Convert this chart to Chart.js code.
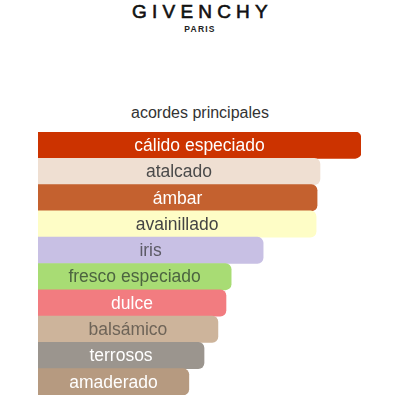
<!DOCTYPE html>
<html>
<head>
<meta charset="utf-8">
<script src="https://cdn.jsdelivr.net/npm/chart.js@4"></script>
<style>
  html, body { margin: 0; padding: 0; background: #fff; }
  #wrap { position: relative; width: 400px; height: 400px; overflow: hidden; }
  #brand { position: absolute; left: 0; top: 2px; width: 400px; text-align: center; font-family: "Liberation Sans", Arial, sans-serif; color: #111; }
  #brand .name { font-size: 19px; letter-spacing: 5.2px; padding-left: 5px; line-height: 20px; -webkit-text-stroke: 0.6px #111; }
  #brand .city { font-size: 8.5px; font-weight: bold; letter-spacing: 1.2px; line-height: 10px; margin-top: 2px; color: #222; }
  #title { position: absolute; left: 0; top: 104px; width: 400px; text-align: center; font-family: "Liberation Sans", Arial, sans-serif; font-size: 16px; color: #333; }
  canvas { position: absolute; left: 0; top: 0; }
</style>
</head>
<body>
<div id="wrap">
  <div id="brand"><div class="name">GIVENCHY</div><div class="city">PARIS</div></div>
  <div id="title">acordes principales</div>
  <canvas id="accords" width="400" height="400"></canvas>
</div>
<script>
// accords (longest bar = 100)
const accords = ['cálido especiado', 'atalcado', 'ámbar', 'avainillado', 'iris',
                 'fresco especiado', 'dulce', 'balsámico', 'terrosos', 'amaderado'];
const strength = [100, 87.3, 86.4, 86.1, 69.7, 59.8, 58.2, 55.7, 51.4, 46.7];
const barColors = ['#cc3300', '#efdfd2', '#c4612f', '#fefdc6', '#c8c0e4',
                   '#a8dc74', '#f27c80', '#cdb49b', '#9b958e', '#b69a80'];
const labelColors = ['#ffffff', '#4a4a4a', '#ffffff', '#444444', '#5c5a66',
                     '#4c6440', '#ffffff', '#6e6458', '#ffffff', '#ffffff'];

// writes the accord name in the middle of each bar
const barNames = {
    id: 'barNames',
    afterDatasetsDraw(chart) {
        const ctx = chart.ctx;
        const bars = chart.getDatasetMeta(0).data;
        ctx.save();
        ctx.font = '17.5px "Liberation Sans", Arial, sans-serif';
        ctx.textAlign = 'center';
        ctx.textBaseline = 'middle';
        bars.forEach((bar, i) => {
            ctx.fillStyle = labelColors[i];
            ctx.fillText(accords[i], (bar.x + bar.base) / 2, bar.y + 1);
        });
        ctx.restore();
    }
};

new Chart(document.getElementById('accords'), {
    type: 'bar',
    data: {
        labels: accords,
        datasets: [{
            data: strength,
            backgroundColor: barColors,
            borderWidth: 0,
            borderRadius: 6,
            barPercentage: 1,
            categoryPercentage: 1
        }]
    },
    options: {
        indexAxis: 'y',
        responsive: false,
        animation: false,
        layout: { padding: { left: 38, right: 39, top: 132, bottom: 5 } },
        scales: {
            x: { display: false, min: 0, max: 100 },
            y: { display: false }
        },
        plugins: {
            legend: { display: false },
            tooltip: { enabled: false }
        }
    },
    plugins: [barNames]
});
</script>
</body>
</html>
